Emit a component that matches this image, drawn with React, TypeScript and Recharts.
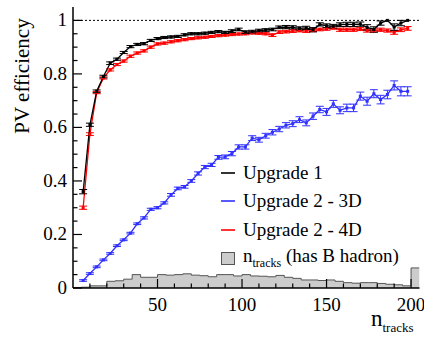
import { ComposedChart, Line, Area, XAxis, YAxis, ErrorBar, ReferenceLine } from 'recharts';

const FONT = '"Liberation Serif", "Times New Roman", Times, "DejaVu Serif", serif';

// bin centres of the efficiency curves
const nTracks = [6, 10, 14, 18, 22, 26, 30, 34, 38, 42, 46, 50, 54, 58, 62, 66, 70, 74, 78, 82, 86, 90, 94, 98, 102, 106, 110, 114, 118, 122, 126, 130, 134, 138, 142, 146, 150, 154, 158, 162, 166, 170, 174, 178, 182, 186, 190, 194, 198];

const effU1 = [0.36, 0.61, 0.735, 0.79, 0.84, 0.855, 0.88, 0.902, 0.91, 0.913, 0.925, 0.932, 0.936, 0.938, 0.94, 0.946, 0.95, 0.95, 0.952, 0.955, 0.958, 0.955, 0.96, 0.966, 0.956, 0.958, 0.962, 0.964, 0.966, 0.974, 0.975, 0.974, 0.97, 0.972, 0.965, 0.985, 0.98, 0.978, 0.984, 0.985, 0.985, 0.986, 0.974, 0.966, 0.99, 1.0, 0.975, 0.99, 1.0];
const errU1 = [0.008, 0.006, 0.005, 0.005, 0.005, 0.004, 0.004, 0.004, 0.004, 0.004, 0.004, 0.004, 0.004, 0.004, 0.004, 0.004, 0.004, 0.004, 0.004, 0.004, 0.004, 0.004, 0.005, 0.005, 0.005, 0.005, 0.005, 0.005, 0.005, 0.005, 0.006, 0.006, 0.006, 0.006, 0.008, 0.006, 0.007, 0.007, 0.007, 0.008, 0.008, 0.008, 0.01, 0.01, 0.008, 0, 0.012, 0.01, 0];

const eff3D = [0.028, 0.054, 0.079, 0.105, 0.129, 0.158, 0.18, 0.205, 0.24, 0.262, 0.294, 0.3, 0.318, 0.348, 0.372, 0.378, 0.4, 0.428, 0.452, 0.46, 0.488, 0.49, 0.502, 0.527, 0.527, 0.56, 0.554, 0.569, 0.582, 0.594, 0.608, 0.614, 0.629, 0.617, 0.642, 0.667, 0.658, 0.688, 0.664, 0.673, 0.673, 0.717, 0.698, 0.726, 0.704, 0.723, 0.757, 0.735, 0.735];
const err3D = [0.003, 0.003, 0.003, 0.003, 0.003, 0.003, 0.003, 0.003, 0.003, 0.004, 0.004, 0.004, 0.004, 0.005, 0.005, 0.005, 0.005, 0.006, 0.006, 0.006, 0.007, 0.007, 0.008, 0.008, 0.008, 0.009, 0.009, 0.009, 0.01, 0.01, 0.01, 0.011, 0.011, 0.011, 0.012, 0.012, 0.013, 0.013, 0.013, 0.014, 0.014, 0.015, 0.015, 0.015, 0.016, 0.016, 0.017, 0.017, 0.017];

const eff4D = [0.3, 0.575, 0.73, 0.785, 0.815, 0.835, 0.848, 0.866, 0.878, 0.886, 0.9, 0.912, 0.915, 0.92, 0.924, 0.928, 0.932, 0.935, 0.937, 0.94, 0.943, 0.945, 0.947, 0.949, 0.95, 0.953, 0.952, 0.95, 0.945, 0.956, 0.958, 0.96, 0.962, 0.96, 0.963, 0.966, 0.968, 0.972, 0.965, 0.965, 0.965, 0.968, 0.962, 0.962, 0.965, 0.962, 0.955, 0.965, 0.97];
const err4D = [0.006, 0.005, 0.004, 0.004, 0.004, 0.004, 0.004, 0.004, 0.004, 0.004, 0.004, 0.004, 0.004, 0.004, 0.004, 0.004, 0.004, 0.004, 0.004, 0.004, 0.004, 0.004, 0.004, 0.004, 0.004, 0.004, 0.004, 0.004, 0.005, 0.005, 0.005, 0.005, 0.005, 0.005, 0.005, 0.005, 0.005, 0.005, 0.006, 0.006, 0.006, 0.006, 0.006, 0.006, 0.006, 0.006, 0.007, 0.007, 0.007];

// n_tracks distribution (has B hadron), arbitrary normalisation, 5-wide bins
const histEdges = [0, 5, 10, 15, 20, 25, 30, 35, 40, 45, 50, 55, 60, 65, 70, 75, 80, 85, 90, 95, 100, 105, 110, 115, 120, 125, 130, 135, 140, 145, 150, 155, 160, 165, 170, 175, 180, 185, 190, 195, 200];
const histUpper = 205;
const histCounts = [0.002, 0.003, 0.008, 0.008, 0.025, 0.027, 0.033, 0.05, 0.04, 0.04, 0.05, 0.048, 0.05, 0.053, 0.048, 0.046, 0.042, 0.05, 0.05, 0.045, 0.05, 0.045, 0.044, 0.042, 0.047, 0.04, 0.036, 0.03, 0.03, 0.028, 0.03, 0.025, 0.02, 0.018, 0.02, 0.02, 0.017, 0.014, 0.012, 0.008, 0.075];

const xTicks = [10, 20, 30, 40, 50, 60, 70, 80, 90, 100, 110, 120, 130, 140, 150, 160, 170, 180, 190, 200];
const xLabels = [50, 100, 150, 200];
const yTicks = [0, 0.05, 0.1, 0.15, 0.2, 0.25, 0.3, 0.35, 0.4, 0.45, 0.5, 0.55, 0.6, 0.65, 0.7, 0.75, 0.8, 0.85, 0.9, 0.95, 1];
const yLabels = [0, 0.2, 0.4, 0.6, 0.8, 1];

const isYLabel = (v: number) => yLabels.some((l) => Math.abs(l - v) < 1e-6);

const BottomTick = ({ x, y, payload }: any) => {
    const major = xLabels.includes(payload.value);
    return (
        <g>
            <line x1={x} x2={x} y1={y} y2={y - (major ? 9 : 4.5)} stroke="#000" strokeWidth={1.2} />
            {major && (
                <text x={x} y={y + 23} textAnchor="middle" fontSize={19} fontFamily={FONT} fill="#000">{payload.value}</text>
            )}
        </g>
    );
};

const TopTick = ({ x, y, payload }: any) => {
    const major = xLabels.includes(payload.value);
    return <line x1={x} x2={x} y1={y} y2={y + (major ? 9 : 4.5)} stroke="#000" strokeWidth={1.2} />;
};

const LeftTick = ({ x, y, payload }: any) => {
    const major = isYLabel(payload.value);
    return (
        <g>
            <line x1={x} x2={x + (major ? 9 : 4.5)} y1={y} y2={y} stroke="#000" strokeWidth={1.2} />
            {major && (
                <text x={x - 6} y={y + 6} textAnchor="end" fontSize={19} fontFamily={FONT} fill="#000">{payload.value}</text>
            )}
        </g>
    );
};

const RightTick = ({ x, y, payload }: any) => {
    const major = isYLabel(payload.value);
    return <line x1={x} x2={x - (major ? 9 : 4.5)} y1={y} y2={y} stroke="#000" strokeWidth={1.2} />;
};

const square = (color: string) => (p: any) => (
    <rect key={`d-${p.index}`} x={p.cx - 1.5} y={p.cy - 1.5} width={3} height={3} fill={color} />
);

const legendRows = [
    { label: 'Upgrade 1', color: '#000000' },
    { label: 'Upgrade 2 - 3D', color: '#3030ff' },
    { label: 'Upgrade 2 - 4D', color: '#ff0000' },
];

export default function App() {
    const effData = nTracks.map((n, i) => ({
        n,
        u1: effU1[i], u1Err: errU1[i],
        d3: eff3D[i], d3Err: err3D[i],
        d4: eff4D[i], d4Err: err4D[i],
    }));
    const histData = [
        ...histEdges.map((n, i) => ({ n, h: histCounts[i] })),
        { n: histUpper, h: histCounts[histCounts.length - 1] },
    ];

    return (
        <div style={{ position: 'absolute', left: 0, top: 0, width: 424, height: 339, background: '#fff', fontFamily: FONT }}>
            <ComposedChart width={424} height={339} data={effData} margin={{ top: 7, right: 4.5, bottom: 0, left: 0 }}>
                <XAxis xAxisId="b" dataKey="n" type="number" domain={[0, 205]} ticks={xTicks} interval={0}
                    tickSize={0} tickMargin={0} height={51} tick={<BottomTick />} tickLine={false}
                    axisLine={{ stroke: '#000', strokeWidth: 1.5 }} allowDataOverflow />
                <XAxis xAxisId="t" orientation="top" dataKey="n" type="number" domain={[0, 205]} ticks={xTicks} interval={0}
                    tickSize={0} tickMargin={0} height={0} tick={<TopTick />} tickLine={false}
                    axisLine={{ stroke: '#000', strokeWidth: 1.5 }} allowDataOverflow />
                <YAxis yAxisId="l" type="number" domain={[0, 1.05]} ticks={yTicks} interval={0}
                    tickSize={0} tickMargin={0} width={73} tick={<LeftTick />} tickLine={false}
                    axisLine={{ stroke: '#000', strokeWidth: 1.5 }} allowDataOverflow />
                <YAxis yAxisId="r" orientation="right" type="number" domain={[0, 1.05]} ticks={yTicks} interval={0}
                    tickSize={0} tickMargin={0} width={0} tick={<RightTick />} tickLine={false}
                    axisLine={{ stroke: '#000', strokeWidth: 1.5 }} allowDataOverflow />

                <Area xAxisId="b" yAxisId="l" data={histData} dataKey="h" type="stepAfter" fill="#cccccc" fillOpacity={1}
                    stroke="#555555" strokeWidth={1} isAnimationActive={false} dot={false} activeDot={false} />

                <ReferenceLine xAxisId="b" yAxisId="l" y={1} stroke="#000" strokeWidth={1} strokeDasharray="2 2" />

                <Line xAxisId="b" yAxisId="l" dataKey="d4" stroke="#ff0000" strokeWidth={1.3} dot={square('#ff0000')}
                    activeDot={false} isAnimationActive={false}>
                    <ErrorBar dataKey="d4Err" width={4} stroke="#ff0000" strokeWidth={1} direction="y" isAnimationActive={false} />
                </Line>
                <Line xAxisId="b" yAxisId="l" dataKey="u1" stroke="#000000" strokeWidth={1.3} dot={square('#000000')}
                    activeDot={false} isAnimationActive={false}>
                    <ErrorBar dataKey="u1Err" width={4} stroke="#000000" strokeWidth={1} direction="y" isAnimationActive={false} />
                </Line>
                <Line xAxisId="b" yAxisId="l" dataKey="d3" stroke="#3030ff" strokeWidth={1.3} dot={square('#3030ff')}
                    activeDot={false} isAnimationActive={false}>
                    <ErrorBar dataKey="d3Err" width={4} stroke="#3030ff" strokeWidth={1} direction="y" isAnimationActive={false} />
                </Line>
            </ComposedChart>

            {/* legend */}
            <div style={{ position: 'absolute', left: 221, top: 159, fontSize: 19, color: '#000' }}>
                {legendRows.map((r) => (
                    <div key={r.label} style={{ display: 'flex', alignItems: 'center', height: 28.3, whiteSpace: 'nowrap' }}>
                        <svg width={14} height={4} style={{ marginRight: 8 }}>
                            <line x1={0} x2={14} y1={2} y2={2} stroke={r.color} strokeWidth={1.6} />
                        </svg>
                        <span>{r.label}</span>
                    </div>
                ))}
                <div style={{ display: 'flex', alignItems: 'center', height: 28.3, whiteSpace: 'nowrap' }}>
                    <span style={{ display: 'inline-block', width: 14, height: 13, background: '#cccccc', border: '1px solid #555', marginRight: 8, boxSizing: 'border-box' }} />
                    <span>n<sub style={{ fontSize: 12 }}>tracks</sub> (has B hadron)</span>
                </div>
            </div>

            {/* axis titles */}
            <div style={{ position: 'absolute', left: 22, top: 76, fontSize: 21, whiteSpace: 'nowrap', transform: 'translate(-50%, -50%) rotate(-90deg)' }}>
                PV efficiency
            </div>
            <div style={{ position: 'absolute', left: 371, top: 306, fontSize: 23, whiteSpace: 'nowrap' }}>
                n<sub style={{ fontSize: 13 }}>tracks</sub>
            </div>
        </div>
    );
}
